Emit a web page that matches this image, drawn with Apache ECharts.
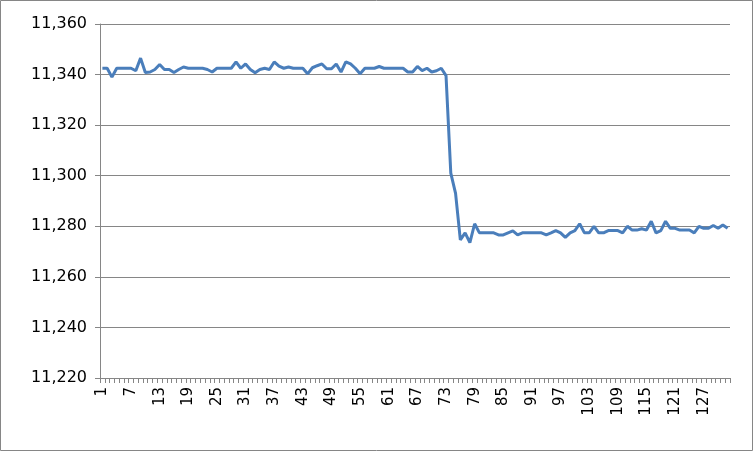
<!DOCTYPE html>
<html>
<head>
<meta charset="utf-8">
<script src="https://cdn.jsdelivr.net/npm/echarts@6/dist/echarts.min.js"></script>
<style>
html,body{margin:0;padding:0;background:#fff;}
#chart{width:753px;height:451px;}
</style>
</head>
<body>
<div id="chart"></div>
<script>
// Values
const valuesHigh = [
  11342.5, 11342.5, 11339, 11342.5, 11342.5, 11342.5, 11342.5, 11341.5, 11346.5, 11340.8,
  11341, 11342, 11344, 11342, 11342, 11340.8, 11342, 11343, 11342.5, 11342.5,
  11342.5, 11342.5, 11342, 11341, 11342.5, 11342.5, 11342.5, 11342.5, 11345, 11342.5,
  11344.2, 11342, 11340.7, 11342, 11342.5, 11342, 11345, 11343.3, 11342.5, 11343,
  11342.5, 11342.5, 11342.5, 11340.3, 11342.7, 11343.5, 11344.2, 11342.3, 11342.3, 11344.2,
  11341, 11345, 11344.2, 11342.5, 11340.3, 11342.5, 11342.5, 11342.5, 11343.2, 11342.5,
  11342.5, 11342.5, 11342.5, 11342.5, 11341, 11341, 11343.2, 11341.6, 11342.5, 11341,
  11341.5, 11342.5, 11339.6
];
const valuesDrop = [11301, 11293];
const valuesLow = [
  11274.6, 11277.4, 11273.5, 11281, 11277.4,
  11277.4, 11277.4, 11277.4, 11276.6, 11276.6, 11277.4, 11278.2, 11276.6, 11277.4, 11277.4,
  11277.4, 11277.4, 11277.4, 11276.6, 11277.4, 11278.3, 11277.4, 11275.6, 11277.4, 11278.3,
  11281, 11277.4, 11277.4, 11280, 11277.4, 11277.4, 11278.3, 11278.3, 11278.3, 11277.4,
  11280, 11278.5, 11278.5, 11279, 11278.5, 11282, 11277.4, 11278.3, 11282, 11279.2,
  11279.2, 11278.5, 11278.5, 11278.5, 11277.4, 11280, 11279.2, 11279.2, 11280.3, 11279.2,
  11280.5, 11279.2
];
const values = valuesHigh.concat(valuesDrop, valuesLow);
const categories = values.map((v, i) => String(i + 1));
const yMin = 11220, yMax = 11360, yStep = 20;

function fmt(v) {
  return String(v).replace(/\B(?=(\d{3})+(?!\d))/g, ',');
}

const chart = echarts.init(document.getElementById('chart'), null, {renderer: 'canvas'});
const axisGrey = '#868686';
chart.setOption({
  animation: false,
  backgroundColor: '#ffffff',
  graphic: [{
    type: 'rect',
    shape: {x: 0.5, y: 0.5, width: 752, height: 450},
    style: {fill: 'none', stroke: axisGrey, lineWidth: 1},
    silent: true
  }],
  grid: {left: 100, right: 23, top: 24, bottom: 73, containLabel: false},
  xAxis: {
    type: 'category',
    data: categories,
    boundaryGap: true,
    axisLine: {show: true, lineStyle: {color: axisGrey, width: 1}},
    axisTick: {show: true, interval: 0, length: 5, inside: false, lineStyle: {color: axisGrey}},
    axisLabel: {
      interval: 5, rotate: 90, margin: 9,
      color: '#000', fontFamily: 'DejaVu Sans', fontSize: 15
    },
    splitLine: {show: false}
  },
  yAxis: {
    type: 'value',
    min: yMin, max: yMax, interval: yStep,
    axisLine: {show: true, lineStyle: {color: axisGrey, width: 1}},
    axisTick: {show: true, length: 5, lineStyle: {color: axisGrey}},
    axisLabel: {
      margin: 13, color: '#000', fontFamily: 'DejaVu Sans', fontSize: 16,
      formatter: fmt
    },
    splitLine: {show: true, lineStyle: {color: axisGrey, width: 1}}
  },
  series: [{
    type: 'line',
    data: values,
    showSymbol: false,
    symbol: 'none',
    lineStyle: {color: '#4a7ebb', width: 3},
    itemStyle: {color: '#4a7ebb'}
  }]
});
</script>
</body>
</html>
